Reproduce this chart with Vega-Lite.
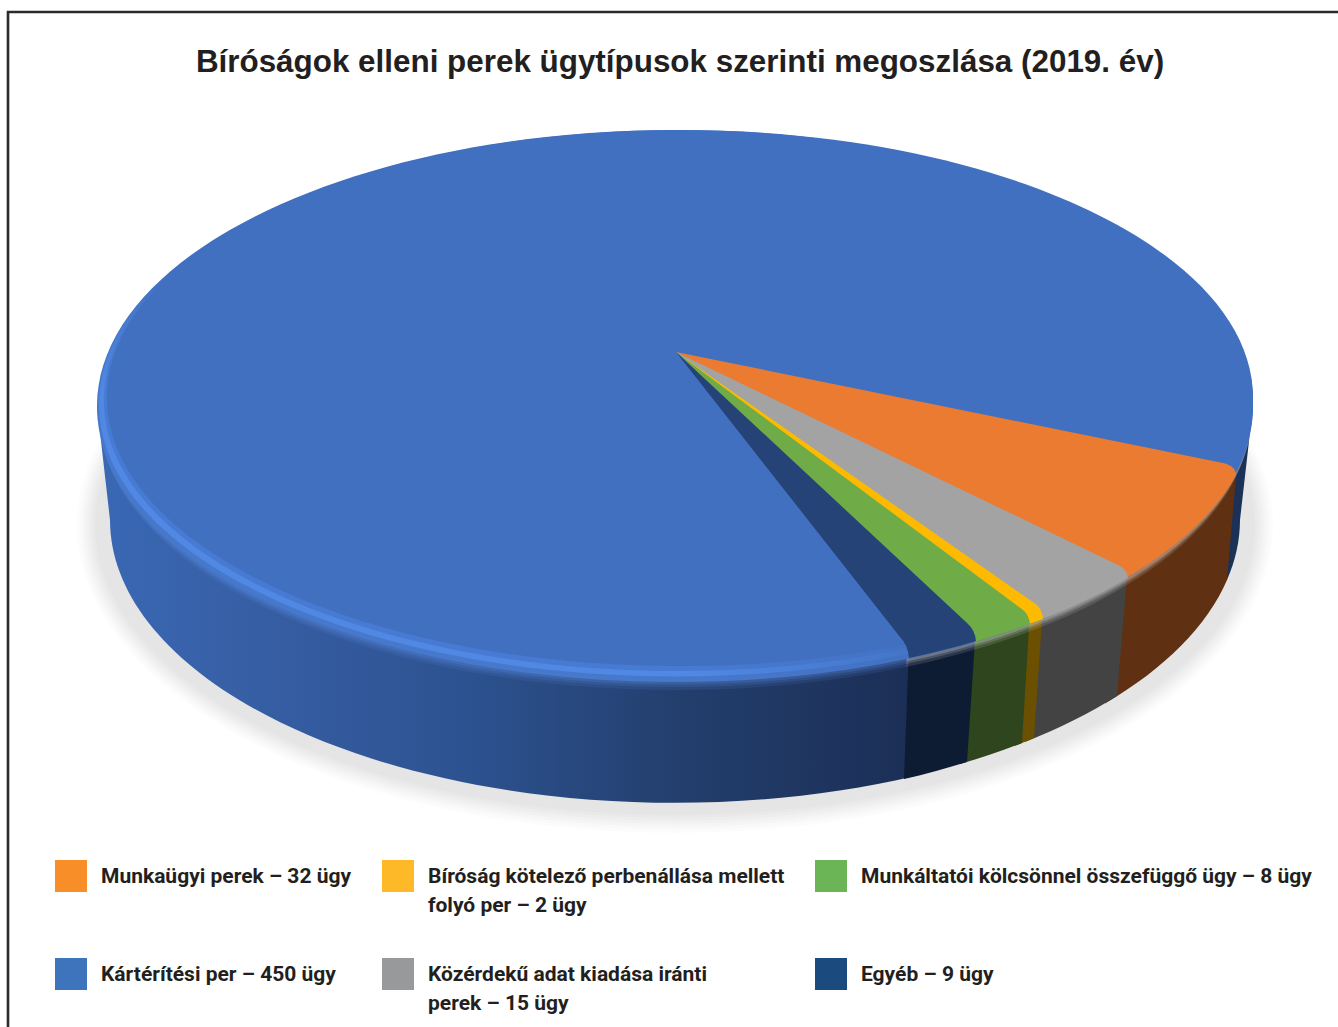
{
"$schema":"https://vega.github.io/schema/vega-lite/v6.json",
"width":1334,"height":1030,
"autosize":{"type":"none"},
"padding":{"left":8,"top":12,"right":0,"bottom":0},
"background":"white",
"config":{"view":{"stroke":"#2b2b2b","strokeWidth":2.6}},
"title":{"text":"Bíróságok elleni perek ügytípusok szerinti megoszlása (2019. év)","font":"Liberation Sans","fontSize":31.4,"fontWeight":"bold","color":"#231F20","anchor":"middle","offset":-66,"dx":5},
"data":{"values":[
{"kategoria":"Kártérítési per","ugy":450,"felirat":"Kártérítési per – 450 ügy"},
{"kategoria":"Munkaügyi perek","ugy":32,"felirat":"Munkaügyi perek – 32 ügy"},
{"kategoria":"Közérdekű adat kiadása iránti perek","ugy":15,"felirat":"Közérdekű adat kiadása iránti|perek – 15 ügy"},
{"kategoria":"Bíróság kötelező perbenállása mellett folyó per","ugy":2,"felirat":"Bíróság kötelező perbenállása mellett|folyó per – 2 ügy"},
{"kategoria":"Munkáltatói kölcsönnel összefüggő ügy","ugy":8,"felirat":"Munkáltatói kölcsönnel összefüggő ügy – 8 ügy"},
{"kategoria":"Egyéb","ugy":9,"felirat":"Egyéb – 9 ügy"}
]},
"encoding":{
"x":{"datum":0,"type":"quantitative","scale":{"domain":[-1,1]},"axis":null},
"y":{"datum":0,"type":"quantitative","scale":{"domain":[-1,1]},"axis":null}
},
"layer":[
{"data":{"values":[{"resz":"árnyék"}]},"mark":{"type":"point","filled":true,"size":4000000,"fill":"#000","opacity":0.01,"strokeWidth":0,"shape":"M-0.598,-0.002 A0.598,0.308 0 1 0 0.598,-0.002 A0.598,0.308 0 1 0 -0.598,-0.002 Z"}},
{"data":{"values":[{"resz":"árnyék"}]},"mark":{"type":"point","filled":true,"size":4000000,"fill":"#000","opacity":0.012,"strokeWidth":0,"shape":"M-0.595,-0.002 A0.595,0.305 0 1 0 0.595,-0.002 A0.595,0.305 0 1 0 -0.595,-0.002 Z"}},
{"data":{"values":[{"resz":"árnyék"}]},"mark":{"type":"point","filled":true,"size":4000000,"fill":"#000","opacity":0.014,"strokeWidth":0,"shape":"M-0.592,-0.002 A0.592,0.302 0 1 0 0.592,-0.002 A0.592,0.302 0 1 0 -0.592,-0.002 Z"}},
{"data":{"values":[{"resz":"árnyék"}]},"mark":{"type":"point","filled":true,"size":4000000,"fill":"#000","opacity":0.016,"strokeWidth":0,"shape":"M-0.589,-0.002 A0.589,0.299 0 1 0 0.589,-0.002 A0.589,0.299 0 1 0 -0.589,-0.002 Z"}},
{"data":{"values":[{"resz":"árnyék"}]},"mark":{"type":"point","filled":true,"size":4000000,"fill":"#000","opacity":0.016,"strokeWidth":0,"shape":"M-0.586,-0.002 A0.586,0.296 0 1 0 0.586,-0.002 A0.586,0.296 0 1 0 -0.586,-0.002 Z"}},
{"data":{"values":[{"resz":"árnyék"}]},"mark":{"type":"point","filled":true,"size":4000000,"fill":"#000","opacity":0.016,"strokeWidth":0,"shape":"M-0.583,-0.002 A0.583,0.293 0 1 0 0.583,-0.002 A0.583,0.293 0 1 0 -0.583,-0.002 Z"}},
{"data":{"values":[{"resz":"árnyék"}]},"mark":{"type":"point","filled":true,"size":4000000,"fill":"#000","opacity":0.016,"strokeWidth":0,"shape":"M-0.58,-0.002 A0.58,0.29 0 1 0 0.58,-0.002 A0.58,0.29 0 1 0 -0.58,-0.002 Z"}},
{"data":{"values":[{"resz":"hátsó fal"}]},"mark":{"type":"point","filled":true,"size":4000000,"fill":"#1B3158","opacity":1,"strokeWidth":0,"shape":"M0.578,-0.121 L0.565,-0.007 A0.565,0.283 0 0 1 0.552,0.053 L0.525,-0.077 Z"}},
{"data":{"values":[{"resz":"kék fal"}]},"mark":{"type":"point","filled":true,"size":4000000,"opacity":1,"strokeWidth":0,"fill":{"gradient":"linear","x1":0,"x2":1,"y1":0,"y2":0,"stops":[{"offset":0,"color":"#3A68B4"},{"offset":0.2,"color":"#365EA4"},{"offset":0.45,"color":"#2D5290"},{"offset":0.7,"color":"#233F6E"},{"offset":1,"color":"#1B2E55"}]},"shape":"M-0.578,-0.121 L-0.565,-0.007 A0.565,0.283 0 0 0 0.24,0.249 L0.245,0.073 Z"}},
{"transform":[{"filter":"datum.ugy < 450"}],"mark":{"type":"point","filled":true,"size":4000000,"opacity":1,"strokeWidth":0},
"encoding":{
"shape":{"field":"felirat","type":"nominal","legend":null,"scale":{"domain":["Munkaügyi perek – 32 ügy","Közérdekű adat kiadása iránti|perek – 15 ügy","Bíróság kötelező perbenállása mellett|folyó per – 2 ügy","Munkáltatói kölcsönnel összefüggő ügy – 8 ügy","Egyéb – 9 ügy"],"range":[
"M0.562,-0.062 L0.552,0.053 A0.565,0.283 0 0 1 0.43,0.1765 L0.44,0.038 Z",
"M0.453,0.038 L0.442,0.169 A0.565,0.283 0 0 1 0.35,0.215 L0.36,0.078 Z",
"M0.368,0.078 L0.359,0.211 A0.565,0.283 0 0 1 0.34,0.219 L0.347,0.083 Z",
"M0.355,0.083 L0.347,0.216 A0.565,0.283 0 0 1 0.285,0.237 L0.294,0.098 Z",
"M0.301,0.098 L0.292,0.235 A0.565,0.283 0 0 1 0.229,0.252 L0.234,0.118 Z"]}},
"fill":{"field":"felirat","type":"nominal","legend":null,"scale":{"domain":["Munkaügyi perek – 32 ügy","Közérdekű adat kiadása iránti|perek – 15 ügy","Bíróság kötelező perbenállása mellett|folyó per – 2 ügy","Munkáltatói kölcsönnel összefüggő ügy – 8 ügy","Egyéb – 9 ügy"],"range":["#5F3011","#434343","#6A5000","#2E451D","#0D1B33"]}}
}},
{"data":{"values":[{"resz":"perem"}]},"mark":{"type":"point","filled":true,"size":4000000,"opacity":0.12,"strokeWidth":0,"fill":{"gradient":"linear","x1":0,"x2":1,"y1":0,"y2":0,"stops":[{"offset":0,"color":"#5C90E8"},{"offset":0.7,"color":"#5C90E8"},{"offset":0.701,"color":"#ffffff"},{"offset":1,"color":"#ffffff"}]},"shape":"M-0.576,-0.113 A0.576,0.276 0 1 0 0.576,-0.113 A0.576,0.276 0 1 0 -0.576,-0.113 Z"}},
{"data":{"values":[{"resz":"perem"}]},"mark":{"type":"point","filled":true,"size":4000000,"opacity":0.15,"strokeWidth":0,"fill":{"gradient":"linear","x1":0,"x2":1,"y1":0,"y2":0,"stops":[{"offset":0,"color":"#5C90E8"},{"offset":0.7,"color":"#5C90E8"},{"offset":0.701,"color":"#ffffff"},{"offset":1,"color":"#ffffff"}]},"shape":"M-0.577,-0.116 A0.577,0.276 0 1 0 0.577,-0.116 A0.577,0.276 0 1 0 -0.577,-0.116 Z"}},
{"data":{"values":[{"resz":"perem"}]},"mark":{"type":"point","filled":true,"size":4000000,"opacity":0.2,"strokeWidth":0,"fill":{"gradient":"linear","x1":0,"x2":1,"y1":0,"y2":0,"stops":[{"offset":0,"color":"#5C90E8"},{"offset":0.7,"color":"#5C90E8"},{"offset":0.701,"color":"#ffffff"},{"offset":1,"color":"#ffffff"}]},"shape":"M-0.578,-0.1185 A0.578,0.276 0 1 0 0.578,-0.1185 A0.578,0.276 0 1 0 -0.578,-0.1185 Z"}},
{"data":{"values":[{"resz":"világos perem"}]},"mark":{"type":"point","filled":true,"size":4000000,"opacity":1,"strokeWidth":0,"fill":{"gradient":"linear","x1":1,"y1":0,"x2":0,"y2":1,"stops":[{"offset":0,"color":"#4170C0"},{"offset":0.6,"color":"#4170C0"},{"offset":0.74,"color":"#4678CC"},{"offset":1,"color":"#4678CC"}]},"shape":"M-0.578,-0.121 A0.578,0.276 0 1 0 0.578,-0.121 A0.578,0.276 0 1 0 -0.578,-0.121 Z"}},
{"data":{"values":[{"resz":"világos perem"}]},"mark":{"type":"point","filled":true,"size":4000000,"opacity":1,"strokeWidth":0,"fill":{"gradient":"linear","x1":1,"y1":0,"x2":0,"y2":1,"stops":[{"offset":0,"color":"#4170C0"},{"offset":0.6,"color":"#4170C0"},{"offset":0.74,"color":"#5088E4"},{"offset":1,"color":"#5088E4"}]},"shape":"M-0.576,-0.123 A0.577,0.2725 0 1 0 0.578,-0.123 A0.577,0.2725 0 1 0 -0.576,-0.123 Z"}},
{"data":{"values":[{"resz":"világos perem"}]},"mark":{"type":"point","filled":true,"size":4000000,"opacity":1,"strokeWidth":0,"fill":{"gradient":"linear","x1":1,"y1":0,"x2":0,"y2":1,"stops":[{"offset":0,"color":"#4170C0"},{"offset":0.6,"color":"#4170C0"},{"offset":0.74,"color":"#477AD2"},{"offset":1,"color":"#477AD2"}]},"shape":"M-0.571,-0.126 A0.5745,0.27 0 1 0 0.578,-0.126 A0.5745,0.27 0 1 0 -0.571,-0.126 Z"}},
{"mark":{"type":"point","filled":true,"size":4000000,"opacity":1,"strokeWidth":0},
"encoding":{
"shape":{"field":"felirat","type":"nominal","legend":null,"scale":{"domain":["Kártérítési per – 450 ügy","Munkaügyi perek – 32 ügy","Közérdekű adat kiadása iránti|perek – 15 ügy","Bíróság kötelező perbenállása mellett|folyó per – 2 ügy","Munkáltatói kölcsönnel összefüggő ügy – 8 ügy","Egyéb – 9 ügy"],"range":[
"M-0.568,-0.129 A0.573,0.268 0 1 0 0.578,-0.129 A0.573,0.268 0 1 0 -0.568,-0.129 Z",
"M0.001,-0.175 L0.548,-0.064 Q0.561,-0.061 0.561,-0.052 A0.578,0.276 0 0 1 0.45,0.052 Z",
"M0.001,-0.175 L0.445,0.039 Q0.452,0.043 0.453,0.051 A0.578,0.276 0 0 1 0.36,0.095 Z",
"M0.001,-0.175 L0.362,0.078 Q0.367,0.083 0.368,0.092 A0.578,0.276 0 0 1 0.35,0.0986 Z",
"M0.001,-0.175 L0.348,0.083 Q0.354,0.088 0.355,0.097 A0.578,0.276 0 0 1 0.3,0.115 Z",
"M0.001,-0.175 L0.292,0.096 Q0.3,0.103 0.301,0.114 A0.578,0.276 0 0 1 0.234,0.131 Q0.233,0.118 0.225,0.11 Z"]}},
"fill":{"field":"felirat","type":"nominal","legend":null,
"scale":{"domain":["Kártérítési per – 450 ügy","Munkaügyi perek – 32 ügy","Közérdekű adat kiadása iránti|perek – 15 ügy","Bíróság kötelező perbenállása mellett|folyó per – 2 ügy","Munkáltatói kölcsönnel összefüggő ügy – 8 ügy","Egyéb – 9 ügy"],"range":["#4170C0","#EB7B31","#A3A3A3","#FDBA00","#6FAB46","#254377"]}}
}},
{"mark":{"type":"point","filled":true,"size":0,"opacity":0,"strokeWidth":0},
"encoding":{
"fill":{"field":"felirat","type":"nominal",
"scale":{"domain":["Munkaügyi perek – 32 ügy","Bíróság kötelező perbenállása mellett|folyó per – 2 ügy","Munkáltatói kölcsönnel összefüggő ügy – 8 ügy","Kártérítési per – 450 ügy","Közérdekű adat kiadása iránti|perek – 15 ügy","Egyéb – 9 ügy"],"range":["#F78E27","#FDB927","#6CB557","#3E74BB","#97999A","#1B4A7E"]},
"legend":{"title":null,"orient":"none","legendX":47,"legendY":848,"direction":"horizontal","columns":3,"gridAlign":"each","padding":0,"columnPadding":30,"rowPadding":42,"symbolType":"square","symbolSize":1024,"symbolStrokeWidth":0,"symbolOpacity":1,"labelFont":"Roboto","labelFontSize":21,"labelFontWeight":"bold","labelColor":"#231F20","labelOffset":14,"labelLimit":600,"labelBaseline":"middle",
"labelExpr":"indexof(datum.label,'|')>=0 ? split(datum.label,'|') : [datum.label,' ']",
"encoding":{
"labels":{"lineHeight":{"value":29},"dy":{"value":1}}
}}}
}}
],
"resolve":{"scale":{"shape":"independent","fill":"independent"}}
}
